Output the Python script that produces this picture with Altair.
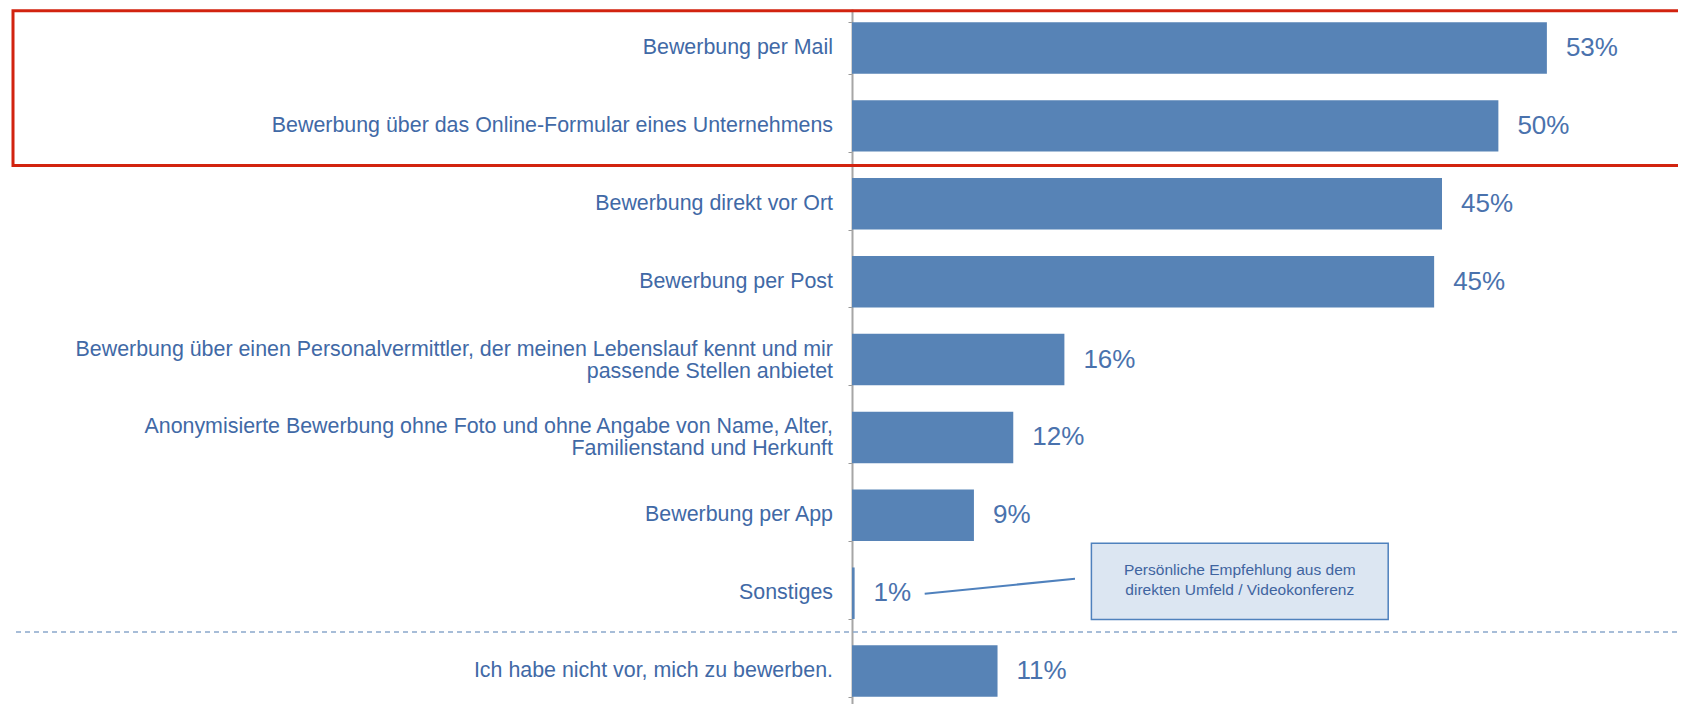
import altair as alt
import pandas as pd

categories = [
    "Bewerbung per Mail",
    "Bewerbung über das Online-Formular eines Unternehmens",
    "Bewerbung direkt vor Ort",
    "Bewerbung per Post",
    "Bewerbung über einen Personalvermittler, der meinen Lebenslauf kennt und mir\npassende Stellen anbietet",
    "Anonymisierte Bewerbung ohne Foto und ohne Angabe von Name, Alter,\nFamilienstand und Herkunft",
    "Bewerbung per App",
    "Sonstiges",
    "Ich habe nicht vor, mich zu bewerben.",
]
values = [53.0, 49.3, 45.0, 44.4, 16.2, 12.3, 9.3, 0.2, 11.1]
value_labels = ["53%", "50%", "45%", "45%", "16%", "12%", "9%", "1%", "11%"]
note_lines = ["Persönliche Empfehlung aus dem", "direkten Umfeld / Videokonferenz"]

df = pd.DataFrame({"cat": categories, "val": values, "lab": value_labels})

BAR = "#5783b6"
TXT = "#4169a6"
FONT = "Liberation Sans"

W, H = 826, 695
y_enc = alt.Y(
    "cat:N",
    sort=categories,
    title=None,
    scale=alt.Scale(range=[0, 701.1], paddingInner=0.339, paddingOuter=0.17),
    axis=alt.Axis(
        labels=False,
        tickSize=4,
        tickColor="#999999",
        tickBand="extent",
        domainColor="#a6a6a6",
        domainWidth=2,
        grid=False,
    ),
)
x_enc = alt.X("val:Q", scale=alt.Scale(domain=[0, 63], nice=False), axis=None)

base = alt.Chart(df)
bars = base.mark_bar(color=BAR).encode(x=x_enc, y=y_enc)
texts = base.mark_text(
    align="left", baseline="middle", dx=19, fontSize=26, font=FONT, color="#4a72ad"
).encode(x=x_enc, y=y_enc, text="lab:N")

label_base = base.transform_calculate(
    lines="split(datum.cat, '\\n')", n="length(split(datum.cat, '\\n'))"
)
single_labels = label_base.transform_filter("datum.n == 1").mark_text(
    align="right", baseline="middle", fontSize=21.4, font=FONT, color=TXT
).encode(x=alt.value(-19), y=y_enc, text="cat:N")
multi_labels = label_base.transform_filter("datum.n > 1").mark_text(
    align="right", baseline="middle", fontSize=21.4, font=FONT, color=TXT,
    lineHeight=22, dy=-10,
).encode(x=alt.value(-19), y=y_enc, text="lines:N")

one = alt.Data(values=[{"a": 1}])

red_frame = alt.Chart(one).mark_rect(
    filled=False, stroke="#d2230f", strokeWidth=3
).encode(
    x=alt.value(-839), x2=alt.value(W + 20), y=alt.value(1.7), y2=alt.value(156.5)
)

dash = alt.Chart(one).mark_rule(
    color="#8aa8cc", strokeWidth=1.5, strokeDash=[5, 4]
).encode(x=alt.value(-836), x2=alt.value(W + 10), y=alt.value(622.9))

box = alt.Chart(one).mark_rect(
    fill="#dce6f2", stroke="#4f81bd", strokeWidth=1.5
).encode(
    x=alt.value(239.4), x2=alt.value(536.2), y=alt.value(534.2), y2=alt.value(610.6)
)

note = alt.Chart(one).mark_text(
    align="center", baseline="middle", fontSize=15.5, font=FONT, color="#3f64a0",
    lineHeight=20, text=note_lines,
).encode(x=alt.value(387.8), y=alt.value(561))

connector = alt.Chart(one).mark_rule(color="#4f81bd", strokeWidth=2).encode(
    x=alt.value(72.7), y=alt.value(584.8), x2=alt.value(223), y2=alt.value(569.7)
)

chart = (
    alt.layer(bars, texts, single_labels, multi_labels, dash, red_frame, connector, box, note)
    .properties(
        width=W,
        height=H,
        autosize=alt.AutoSizeParams(type="none"),
        padding={"left": 844, "top": 1, "right": 0, "bottom": 0},
        background="white",
    )
    .configure_view(strokeWidth=0)
)

chart.save("out.html", embed_options={"renderer": "svg", "actions": False})
